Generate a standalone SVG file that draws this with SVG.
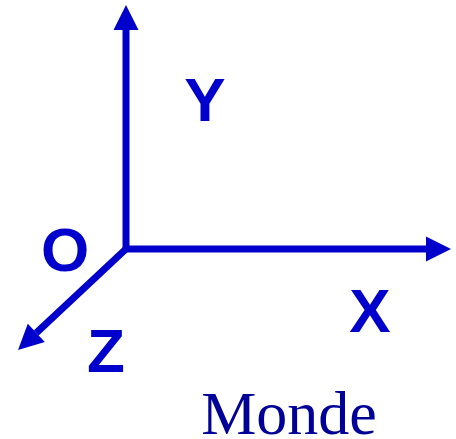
<svg xmlns="http://www.w3.org/2000/svg" width="456" height="439" viewBox="0 0 456 439">
<style>
.axis{stroke:#0000cc;stroke-width:7;fill:none;marker-end:url(#ah)}
.lbl{font-family:"Liberation Sans",Arial,sans-serif;font-weight:bold;font-size:62px;fill:#0000cc;text-anchor:middle}
.title{font-family:"Liberation Serif","Times New Roman",serif;font-size:62px;fill:#000099;text-anchor:middle}
</style>
<defs>
<marker id="ah" markerUnits="userSpaceOnUse" markerWidth="26" markerHeight="26" refX="0" refY="12.5" orient="auto" overflow="visible">
<path d="M0,0 L25,12.5 L0,25 z" fill="#0000cc"/>
</marker>
</defs>
<rect width="456" height="439" fill="#ffffff"/>
<g id="connectors">
<line class="axis" x1="126" y1="252" x2="126" y2="30"/>
<line class="axis" x1="123" y1="249" x2="426" y2="249"/>
<line class="axis" x1="127" y1="248" x2="36.3" y2="332.9"/>
</g>
<g id="labelY"><text class="lbl" x="205" y="121">Y</text></g>
<g id="labelX"><text class="lbl" x="370" y="332">X</text></g>
<g id="labelO"><text class="lbl" x="65" y="271">O</text></g>
<g id="labelZ"><text class="lbl" x="106" y="372">Z</text></g>
<g id="title"><text class="title" x="289" y="434">Monde</text></g>
</svg>
